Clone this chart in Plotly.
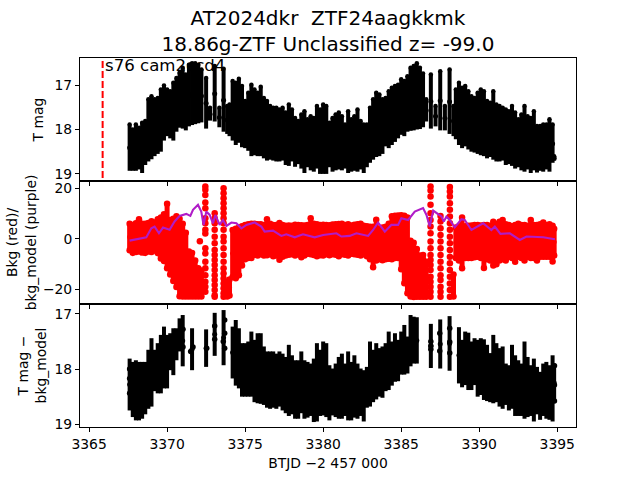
import numpy as np
import plotly.graph_objects as go
from plotly.subplots import make_subplots

# time of each column of points, BTJD - 2457000
btjd = [
    3367.6, 3367.8, 3368.0, 3368.2, 3368.4, 3368.6, 3368.8, 3369.0, 3369.2, 3369.4,
    3369.6, 3369.8, 3370.0, 3370.2, 3370.4, 3370.6, 3370.8, 3371.0, 3371.2, 3371.4,
    3371.6, 3371.8, 3372.0, 3372.2, 3372.5, 3372.75, 3373.05, 3373.35, 3373.62, 3373.85,
    3374.0, 3374.2, 3374.4, 3374.6, 3374.8, 3375.0, 3375.2, 3375.4, 3375.6, 3375.8,
    3376.0, 3376.2, 3376.4, 3376.6, 3376.8, 3377.0, 3377.2, 3377.4, 3377.6, 3377.8,
    3378.0, 3378.2, 3378.4, 3378.6, 3378.8, 3379.0, 3379.2, 3379.4, 3379.6, 3379.8,
    3380.0, 3380.2, 3380.4, 3380.6, 3380.8, 3381.0, 3381.2, 3381.4, 3381.6, 3381.8,
    3382.0, 3382.2, 3382.4, 3382.6, 3382.8, 3383.0, 3383.2, 3383.4, 3383.6, 3383.8,
    3384.0, 3384.2, 3384.4, 3384.6, 3384.8, 3385.0, 3385.2, 3385.4, 3385.6, 3385.8,
    3386.0, 3386.2, 3386.4, 3386.6, 3386.9, 3387.2, 3387.5, 3387.8, 3388.1, 3388.35,
    3388.5, 3388.7, 3388.9, 3389.1, 3389.3, 3389.5, 3389.7, 3389.9, 3390.1, 3390.3,
    3390.5, 3390.7, 3390.9, 3391.1, 3391.3, 3391.5, 3391.7, 3391.9, 3392.1, 3392.3,
    3392.5, 3392.7, 3392.9, 3393.1, 3393.3, 3393.5, 3393.7, 3393.9, 3394.1, 3394.3,
    3394.5, 3394.7, 3394.8,
]

# T mag, bright and faint end of each column
tmag_top = [
    17.89, 18.0, 17.89, 17.96, 17.85, 17.81, 17.32, 17.25, 17.32, 17.29,
    17.1, 17.01, 17.1, 17.14, 16.95, 16.84, 16.72, 16.61, 16.76, 16.54,
    16.51, 16.51, 16.54, 16.65, 16.84, 17.51, 16.57, 17.51, 16.63, 17.47,
    17.44, 16.91, 16.95, 16.86, 17.02, 17.36, 17.17, 16.99, 17.1, 17.17,
    17.04, 17.29, 17.36, 17.47, 17.51, 17.51, 17.55, 17.51, 17.62, 17.44,
    17.55, 17.74, 17.81, 17.66, 17.59, 17.77, 17.7, 17.74, 17.47, 17.55,
    17.44, 17.47, 17.85, 17.74, 17.66, 17.62, 17.7, 17.89, 17.59, 17.77,
    17.7, 17.55, 17.81, 17.89, 17.89, 17.51, 17.32, 17.17, 17.21, 17.32,
    17.29, 17.14, 17.06, 17.02, 16.99, 16.87, 16.91, 16.8, 16.61, 16.57,
    16.51, 16.61, 16.74, 17.32, 16.76, 17.47, 16.69, 17.47, 16.65, 17.47,
    17.1, 16.95, 17.06, 17.02, 17.14, 17.25, 17.29, 17.17, 17.1, 17.14,
    17.36, 17.4, 17.14, 17.44, 17.47, 17.51, 17.55, 17.59, 17.47, 17.62,
    17.77, 17.66, 17.47, 17.7, 17.74, 17.59, 17.92, 17.92, 17.89, 17.89,
    17.77, 17.89, 18.6,
]
tmag_bottom = [
    18.93, 18.93, 18.93, 18.9, 18.98, 18.8, 18.72, 18.67, 18.6, 18.55,
    18.5, 18.25, 18.15, 18.2, 18.25, 18.05, 17.96, 17.98, 18.02, 17.93,
    17.9, 17.88, 17.86, 17.84, 17.98, 17.8, 17.82, 17.95, 18.05, 18.1,
    18.15, 18.25, 18.35, 18.3, 18.4, 18.42, 18.48, 18.6, 18.58, 18.6,
    18.6, 18.65, 18.7, 18.68, 18.7, 18.72, 18.72, 18.7, 18.8, 18.82,
    18.72, 18.84, 18.78, 18.88, 18.98, 18.85, 18.92, 18.95, 18.88, 19.0,
    19.0, 19.0, 18.85, 18.95, 18.92, 18.9, 18.92, 18.88, 18.98, 18.95,
    18.93, 18.95, 18.9, 18.98, 18.85, 18.75, 18.68, 18.62, 18.6, 18.55,
    18.38, 18.42, 18.35, 18.28, 18.2, 18.12, 18.15, 18.05, 18.03, 18.02,
    18.0, 17.99, 17.95, 17.82, 17.98, 17.93, 18.02, 18.02, 18.1, 18.15,
    18.22, 18.35, 18.42, 18.38, 18.45, 18.5, 18.52, 18.55, 18.58, 18.6,
    18.65, 18.62, 18.68, 18.72, 18.72, 18.7, 18.8, 18.78, 18.82, 18.88,
    18.85, 18.92, 18.95, 18.9, 18.98, 18.92, 18.97, 18.93, 18.95, 18.9,
    18.95, 18.75, 18.7,
]

# background flux, upper and lower end of each column
bkg_high = [
    6.0, 5.5, 6.2, 7.8, 6.0, 6.0, 6.3, 7.0, 6.5, 7.8,
    8.5, 9.8, 13.9, 7.5, 8.0, 9.0, 8.0, 6.0, 2.5, -5.0,
    -5.5, -8.5, -11.6, -12.5, None, None, None, None, None, -17.0,
    -16.0, 3.5, 4.0, 4.5, 5.0, 5.5, 5.8, 6.0, 6.0, 5.8,
    5.8, 5.5, 7.8, 6.0, 5.5, 5.5, 6.3, 5.5, 5.2, 5.3,
    5.2, 5.6, 5.5, 5.4, 5.3, 5.5, 8.2, 6.0, 5.8, 5.5,
    5.6, 5.5, 5.4, 5.7, 5.8, 5.9, 6.0, 5.5, 5.8, 5.3,
    5.6, 5.8, 6.0, 5.2, 5.0, 4.8, 4.8, 7.6, 4.0, 4.5,
    4.8, 6.0, 9.0, 9.2, 9.3, 9.4, 9.2, 8.5, -0.7, -1.5,
    -4.0, -6.5, -8.0, -9.0, None, None, None, None, None, -14.0,
    4.5, 5.0, 8.5, 5.0, 5.2, 5.3, 5.5, 5.5, 5.3, 5.5,
    5.5, 5.2, 6.8, 5.8, 6.8, 7.5, 5.8, 5.5, 5.0, 5.5,
    6.0, 5.5, 5.5, 5.2, 7.5, 5.5, 5.5, 5.8, 6.5, 5.5,
    5.8, 5.2, 4.0,
]
bkg_low = [
    -4.5, -5.5, -5.2, -5.0, -5.4, -5.5, -5.0, -5.2, -4.6, -5.6,
    -7.7, -8.7, -11.6, -14.0, -16.6, -19.0, -22.6, -22.7, -22.7, -22.7,
    -22.7, -22.7, -22.7, -22.7, None, None, None, None, None, -22.7,
    -22.3, -15.0, -15.5, -14.3, -10.5, -8.0, -7.5, -7.5, -6.2, -6.5,
    -6.0, -6.5, -6.4, -6.0, -6.8, -6.5, -8.2, -7.0, -6.5, -6.2,
    -6.0, -6.5, -6.0, -7.2, -6.5, -5.8, -6.0, -6.3, -6.8, -6.4,
    -6.5, -6.0, -6.4, -6.0, -6.2, -6.8, -6.0, -6.2, -6.5, -5.8,
    -6.0, -6.2, -6.5, -6.0, -6.8, -8.0, -11.2, -8.5, -8.0, -8.4,
    -8.0, -7.8, -8.0, -7.5, -7.5, -12.0, -17.5, -21.5, -22.7, -22.9,
    -22.8, -22.8, -22.8, -22.8, None, None, None, None, None, -22.7,
    -7.5, -8.5, -11.6, -7.5, -7.5, -7.5, -7.2, -7.0, -7.5, -11.5,
    -8.0, -8.5, -10.5, -10.0, -8.5, -8.0, -8.5, -7.0, -7.5, -9.0,
    -7.0, -7.5, -8.5, -7.0, -7.5, -7.5, -8.5, -7.0, -7.0, -7.0,
    -7.0, -8.9, -6.5,
]
# single points: outliers and the six narrow columns of dots
bkg_dot_t = [
    3372.1, 3370.3, 3386.4,
    3372.45, 3372.45, 3372.45, 3372.45, 3372.45, 3372.45, 3372.45, 3372.45, 3372.45,
    3372.45, 3372.45, 3372.45, 3372.45, 3372.45, 3372.45, 3372.45, 3372.45,
    3373.05, 3373.05, 3373.05, 3373.05, 3373.05, 3373.05, 3373.05, 3373.05, 3373.05,
    3373.05, 3373.05, 3373.05, 3373.05, 3373.05, 3373.05, 3373.05, 3373.05,
    3373.62, 3373.62, 3373.62, 3373.62, 3373.62, 3373.62, 3373.62, 3373.62, 3373.62, 3373.62, 3373.62,
    3373.62, 3373.62, 3373.62, 3373.62, 3373.62, 3373.62, 3373.62, 3373.62, 3373.62, 3373.62,
    3386.88, 3386.88, 3386.88, 3386.88, 3386.88, 3386.88, 3386.88, 3386.88, 3386.88, 3386.88,
    3386.88, 3386.88, 3386.88, 3386.88, 3386.88, 3386.88, 3386.88, 3386.88, 3386.88,
    3387.52, 3387.52, 3387.52, 3387.52, 3387.52, 3387.52, 3387.52,
    3387.52, 3387.52, 3387.52, 3387.52, 3387.52, 3387.52, 3387.52,
    3388.12, 3388.12, 3388.12, 3388.12, 3388.12, 3388.12, 3388.12, 3388.12, 3388.12,
    3388.12, 3388.12, 3388.12, 3388.12, 3388.12, 3388.12, 3388.12, 3388.12, 3388.12,
]
bkg_dot = [
    -0.9, -12.8, -6.3,
    20.7, 19.4, 17.4, 14.4, 12.1, 8.2, 6.2, 3.6, 2.2,
    -3.7, -5.7, -9.0, -11.6, -14.3, -16.9, -18.9, -20.9,
    10.2, 8.2, 6.2, 3.6, 0.9, -1.7, -4.4, -6.3, -8.3,
    -10.3, -12.3, -14.3, -16.2, -18.2, -20.2, -22.2, -22.8,
    20.0, 18.1, 16.1, 14.1, 12.1, 10.2, 8.2, 6.2, 3.6, 0.9, -1.05,
    -3.7, -6.3, -9.0, -11.6, -13.6, -15.6, -17.6, -19.5, -21.5, -22.8,
    20.7, 19.1, 16.8, 13.5, 10.2, 7.5, 4.9, 2.25, -1.05, -3.7,
    -6.3, -8.3, -10.3, -12.3, -14.9, -16.9, -18.9, -20.9, -22.8,
    9.1, 6.9, 4.2, 1.6, -1.05, -3.7, -6.3,
    -9.0, -11.6, -14.3, -16.2, -18.9, -20.9, -22.8,
    20.5, 18.8, 16.8, 14.1, 11.5, 8.85, 6.2, 3.6, 0.9,
    -1.7, -4.4, -7.0, -9.6, -12.3, -14.9, -17.6, -20.2, -22.8,
]

model_t = [
    3367.6, 3368.03, 3368.67, 3368.99, 3369.2, 3369.48, 3369.74, 3370.16, 3370.48, 3370.8,
    3371.23, 3371.49, 3371.66, 3371.98, 3372.19, 3372.34, 3372.51, 3372.73, 3372.94, 3373.09,
    3373.37, 3373.58, 3373.8, 3374.12, 3374.44, 3374.76, 3375.08, 3375.61, 3376.04, 3376.25,
    3376.79, 3377.32, 3377.64, 3378.18, 3378.71, 3379.46, 3380.0, 3380.85, 3381.17, 3381.7,
    3382.13, 3382.88, 3383.2, 3383.52, 3383.95, 3384.37, 3384.8, 3385.01, 3385.44, 3385.87,
    3386.4, 3386.62, 3386.83, 3387.05, 3387.26, 3387.58, 3387.73, 3387.9, 3388.11, 3388.43,
    3388.86, 3389.07, 3389.5, 3390.25, 3390.78, 3391.0, 3391.36, 3391.96, 3392.6, 3393.03,
    3394.1, 3394.85,
]
model_bkg = [
    -0.65, -0.1, 0.65, 4.2, 4.9, 2.25, 4.5, 3.6, 6.9, 9.1,
    9.9, 9.1, 11.5, 13.5, 10.8, 5.5, 10.8, 9.5, 6.2, 9.5,
    5.55, 7.5, 5.15, 6.5, 6.2, 4.2, 5.55, 6.5, 4.9, 2.9,
    3.3, 1.2, 1.85, 0.65, 1.85, 0.65, 1.6, 2.25, 0.95, 1.2,
    2.25, 1.2, 3.55, 6.5, 2.9, 5.55, 5.55, 8.2, 7.5, 10.8,
    12.2, 9.5, 4.9, 11.2, 10.2, 8.85, 6.9, 8.85, 7.5, 4.6,
    7.8, 7.5, 3.55, 6.2, 3.55, 4.9, 2.0, 2.25, -0.4, 0.95,
    0.65, -0.15,
]

# T mag minus background model, bright and faint end of each column
corr_top = [
    17.81, 17.87, 17.84, 17.87, 17.87, 17.87, 17.65, 17.44, 17.65, 17.53,
    17.38, 17.23, 17.38, 17.35, 17.26, 17.26, 17.08, 17.02, None, None,
    17.26, None, None, None, 17.28, None, 16.98, None, 16.93, None,
    None, 17.23, 17.11, 17.26, 17.53, 17.53, 17.5, 17.32, 17.47, 17.35,
    17.35, 17.59, 17.68, 17.68, 17.68, 17.72, 17.68, 17.72, 17.78, 17.56,
    17.75, 17.84, 17.84, 17.68, 17.84, 17.87, 17.9, 17.81, 17.53, 17.65,
    17.5, 17.53, 17.93, 17.99, 17.9, 17.78, 17.72, 17.9, 17.68, 17.87,
    17.75, 17.9, 17.99, 18.02, 17.96, 17.5, 17.65, 17.53, 17.62, 17.59,
    17.53, 17.32, 17.5, 17.35, 17.47, 17.32, 17.2, 17.41, 17.02, 17.05,
    17.06, None, None, None, 17.18, None, 17.1, None, 17.04, None,
    None, 17.24, 17.47, 17.32, 17.34, 17.5, 17.44, 17.47, 17.44, 17.46,
    17.56, 17.71, 17.38, 17.53, 17.62, 17.59, 17.9, 17.93, 17.56, 17.75,
    17.84, 17.9, 17.5, 17.78, 17.93, 17.81, 17.96, 18.05, 17.9, 17.87,
    17.93, 17.75, 17.9,
]
corr_bottom = [
    18.75, 18.87, 18.93, 18.93, 18.9, 18.82, 18.72, 18.68, 18.4, 18.44,
    18.44, 18.35, 18.35, 18.02, 18.11, 17.84, 17.68, 17.95, None, None,
    18.02, None, None, None, 17.96, None, 17.76, None, 17.93, None,
    None, 18.17, 18.3, 18.35, 18.5, 18.5, 18.5, 18.5, 18.6, 18.62,
    18.63, 18.65, 18.7, 18.72, 18.7, 18.72, 18.68, 18.75, 18.8, 18.85,
    18.82, 18.9, 18.9, 18.8, 18.9, 18.88, 18.85, 18.96, 18.95, 18.85,
    18.84, 18.87, 18.93, 18.84, 18.87, 18.9, 18.9, 18.85, 18.93, 18.93,
    18.88, 18.9, 18.85, 18.95, 18.7, 18.68, 18.6, 18.55, 18.5, 18.52,
    18.4, 18.38, 18.3, 18.23, 18.22, 18.1, 18.1, 18.08, 17.95, 17.9,
    17.9, None, None, None, 17.98, None, 17.99, None, 18.03, None,
    None, 18.26, 18.33, 18.29, 18.38, 18.38, 18.29, 18.5, 18.47, 18.56,
    18.58, 18.6, 18.62, 18.6, 18.68, 18.72, 18.65, 18.75, 18.72, 18.85,
    18.85, 18.85, 18.9, 18.87, 18.85, 18.95, 18.82, 18.92, 18.85, 18.9,
    18.92, 18.95, 18.6,
]
corr_dot_t = [
    3371.02, 3371.02, 3371.51, 3371.66, 3372.54, 3373.05, 3373.05, 3373.69, 3373.69, 3373.6,
    3373.69, 3386.9, 3386.9, 3386.9, 3387.47, 3387.47, 3388.11, 3388.11, 3388.11, 3394.82,
    3394.82, 3394.82, 3367.6, 3367.6, 3367.6,
]
corr_dot = [
    17.28, 17.6, 17.68, 17.6, 17.62, 17.22, 17.46, 17.11, 17.35, 17.5,
    17.62, 17.5, 17.58, 17.64, 17.35, 17.67, 17.26, 17.51, 17.71, 17.94,
    18.29, 18.58, 18.0, 18.17, 18.44,
]

sector_t = [3365.87, 3365.87]
sector_y = [16.46, 19.16]

FONT = "DejaVu Sans"
TEXT = dict(family=FONT, size=13.9, color="black")


def add_columns(fig, row, high, low, color, thick):
    # one vertical stroke per column, marker in the middle
    high = np.array(high, dtype=float)
    low = np.array(low, dtype=float)
    fig.add_trace(
        go.Scatter(
            x=btjd,
            y=(high + low) / 2,
            mode="markers",
            marker=dict(color=color, size=5),
            error_y=dict(type="data", array=np.abs(high - low) / 2, color=color, thickness=thick, width=0),
            showlegend=False,
        ),
        row=row,
        col=1,
    )


def add_dots(fig, row, x, y, color, size):
    fig.add_trace(
        go.Scatter(x=x, y=y, mode="markers", marker=dict(color=color, size=size), showlegend=False),
        row=row,
        col=1,
    )


fig = make_subplots(rows=3, cols=1, shared_xaxes=True, vertical_spacing=0)

add_columns(fig, 1, tmag_top, tmag_bottom, "black", 4)
add_dots(fig, 1, btjd, tmag_top, "black", 4.5)
fig.add_trace(
    go.Scatter(x=sector_t, y=sector_y, mode="lines", line=dict(color="red", width=2, dash="7px,3px"), showlegend=False),
    row=1,
    col=1,
)

add_columns(fig, 2, bkg_high, bkg_low, "red", 5)
add_dots(fig, 2, btjd, bkg_high, "red", 6.5)
add_dots(fig, 2, btjd, bkg_low, "red", 6.5)
add_dots(fig, 2, bkg_dot_t, bkg_dot, "red", 6.5)
fig.add_trace(
    go.Scatter(x=model_t, y=model_bkg, mode="lines", line=dict(color="#b01cc8", width=2.1), showlegend=False),
    row=2,
    col=1,
)

add_columns(fig, 3, corr_top, corr_bottom, "black", 4)
add_dots(fig, 3, corr_dot_t, corr_dot, "black", 5.5)

axis_style = dict(
    automargin=False,
    showgrid=False,
    zeroline=False,
    showline=True,
    mirror=True,
    linecolor="black",
    linewidth=1,
    ticks="outside",
    ticklen=4,
    tickwidth=1,
    tickcolor="black",
    tickfont=TEXT,
)
fig.update_xaxes(**axis_style, range=[3364.42, 3396.2], tickvals=[3365, 3370, 3375, 3380, 3385, 3390, 3395])
fig.update_xaxes(title=dict(text="BTJD −2 457 000", font=TEXT, standoff=7), row=3, col=1)
fig.update_yaxes(**axis_style)
fig.update_yaxes(
    range=[19.16, 16.39],
    tickvals=[17, 18, 19],
    title=dict(text="T mag", font=TEXT, standoff=7),
    row=1,
    col=1,
)
fig.update_yaxes(
    range=[-25.7, 22.9],
    tickvals=[-20, 0, 20],
    title=dict(text="Bkg (red)/<br>bkg_model (purple)", font=TEXT, standoff=3),
    row=2,
    col=1,
)
fig.update_yaxes(
    range=[19.05, 16.82],
    tickvals=[17, 18, 19],
    title=dict(text="T mag −<br>bkg_model", font=TEXT, standoff=4),
    row=3,
    col=1,
)

fig.add_annotation(
    x=3365.95,
    y=16.39,
    xref="x",
    yref="y",
    text="s76 cam2ccd4",
    showarrow=False,
    xanchor="left",
    yanchor="top",
    font=dict(family=FONT, size=16.6, color="black"),
    borderpad=0,
    yshift=3,
)

fig.update_layout(
    width=640,
    height=480,
    autosize=False,
    margin=dict(l=80, r=64, t=58, b=53),
    paper_bgcolor="white",
    plot_bgcolor="white",
    title=dict(
        text="AT2024dkr  ZTF24aagkkmk<br>18.86g-ZTF Unclassified z= -99.0",
        font=dict(family=FONT, size=20, color="black"),
        x=0.5125,
        xanchor="center",
        y=0.948,
        yanchor="top",
    ),
)

fig.write_html("out.html", config=dict(displayModeBar=False), post_script="document.body.style.margin='0';")
